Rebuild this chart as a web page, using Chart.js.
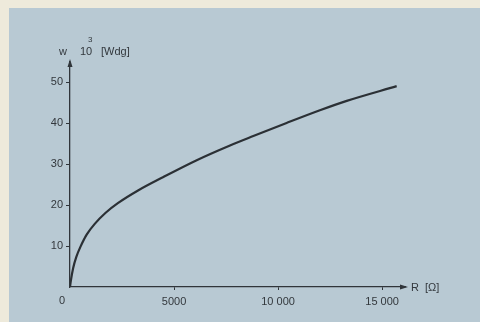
<!DOCTYPE html>
<html>
<head>
<meta charset="utf-8">
<script src="https://cdn.jsdelivr.net/npm/chart.js@4"></script>
<style>
  html, body { margin: 0; padding: 0; background: #eeeadb; }
  canvas { display: block; }
</style>
</head>
<body>
<canvas id="wdgChart" width="480" height="322"></canvas>
<script>
// Resistance R [Ohm] vs windings w (x 10^3)
const resistance = [0, 40, 150, 300, 500, 800, 1200, 1700, 2300, 3270, 4490, 6090, 7690, 8810, 10410, 12010, 13300, 15700];
const windings = [0, 1.5, 4.6, 7.3, 9.8, 12.8, 15.5, 18.1, 20.5, 23.6, 26.9, 31.0, 34.6, 36.9, 40.1, 43.2, 45.5, 49.1];

const xTickValues = [5000, 10000, 15000];
const xTickLabels = ["5000", "10 000", "15 000"];
const yTickValues = [10, 20, 30, 40, 50];

const inkColor = "#30353a";
const textColor = "#33383d";
const fontFamily = "'Liberation Sans', Arial, sans-serif";

const points = resistance.map(function (r, i) { return { x: r, y: windings[i] }; });

// Scanned page look: cream border, blue panel
const backgroundPlugin = {
    id: "panel",
    beforeDraw: function (chart) {
        const ctx = chart.ctx;
        ctx.save();
        ctx.fillStyle = "#eeeadb";
        ctx.fillRect(0, 0, chart.width, chart.height);
        ctx.fillStyle = "#b8c9d3";
        ctx.fillRect(9, 8, chart.width - 9, chart.height - 8);
        ctx.restore();
    }
};

// Arrowheads, axis titles and the origin label
const axisDecorPlugin = {
    id: "axisDecor",
    afterDraw: function (chart) {
        const ctx = chart.ctx;
        const area = chart.chartArea;
        const x0 = chart.scales.x.getPixelForValue(0);
        const y0 = chart.scales.y.getPixelForValue(0);
        ctx.save();
        ctx.fillStyle = inkColor;

        // y arrow
        ctx.beginPath();
        ctx.moveTo(x0, area.top - 3);
        ctx.lineTo(x0 - 2.5, area.top + 5);
        ctx.lineTo(x0 + 2.5, area.top + 5);
        ctx.closePath();
        ctx.fill();

        // x arrow
        ctx.beginPath();
        ctx.moveTo(area.right + 3, y0);
        ctx.lineTo(area.right - 5, y0 - 2.5);
        ctx.lineTo(area.right - 5, y0 + 2.5);
        ctx.closePath();
        ctx.fill();

        ctx.fillStyle = textColor;
        ctx.textBaseline = "alphabetic";
        ctx.textAlign = "left";
        ctx.font = "11px " + fontFamily;
        ctx.fillText("w", 59, 55);
        ctx.fillText("10", 80, 55);
        ctx.fillText("[Wdg]", 101, 55);
        ctx.font = "8px " + fontFamily;
        ctx.fillText("3", 88, 42);

        ctx.font = "11px " + fontFamily;
        ctx.fillText("R  [\u03a9]", area.right + 6, y0 + 4);

        ctx.textAlign = "center";
        ctx.fillText("0", x0 - 8, y0 + 17);
        ctx.restore();
    }
};

new Chart(document.getElementById("wdgChart"), {
    type: "line",
    data: {
        datasets: [{
            label: "w",
            data: points,
            borderColor: "#2b3035",
            borderWidth: 2.2,
            pointRadius: 0,
            fill: false,
            cubicInterpolationMode: "monotone"
        }]
    },
    options: {
        responsive: false,
        animation: false,
        layout: { padding: { left: 0, top: 62, right: 75, bottom: 0 } },
        plugins: {
            legend: { display: false },
            tooltip: { enabled: false }
        },
        scales: {
            x: {
                type: "linear",
                min: 0,
                max: 16100,
                afterFit: function (scale) { scale.height = 35; },
                afterBuildTicks: function (scale) {
                    scale.ticks = xTickValues.map(function (v) { return { value: v }; });
                },
                border: { color: inkColor, width: 1.3 },
                grid: { drawOnChartArea: false, tickLength: 3, color: inkColor, lineWidth: 1 },
                ticks: {
                    color: textColor,
                    padding: 5,
                    maxRotation: 0,
                    font: { family: fontFamily, size: 11 },
                    callback: function (value) {
                        const i = xTickValues.indexOf(value);
                        return i >= 0 ? xTickLabels[i] : "";
                    }
                }
            },
            y: {
                min: 0,
                max: 55,
                afterFit: function (scale) { scale.width = 70; },
                afterBuildTicks: function (scale) {
                    scale.ticks = yTickValues.map(function (v) { return { value: v }; });
                },
                border: { color: inkColor, width: 1.3 },
                grid: { drawOnChartArea: false, tickLength: 4, color: inkColor, lineWidth: 1 },
                ticks: {
                    color: textColor,
                    padding: 3,
                    font: { family: fontFamily, size: 11 }
                }
            }
        }
    },
    plugins: [backgroundPlugin, axisDecorPlugin]
});
</script>
</body>
</html>
